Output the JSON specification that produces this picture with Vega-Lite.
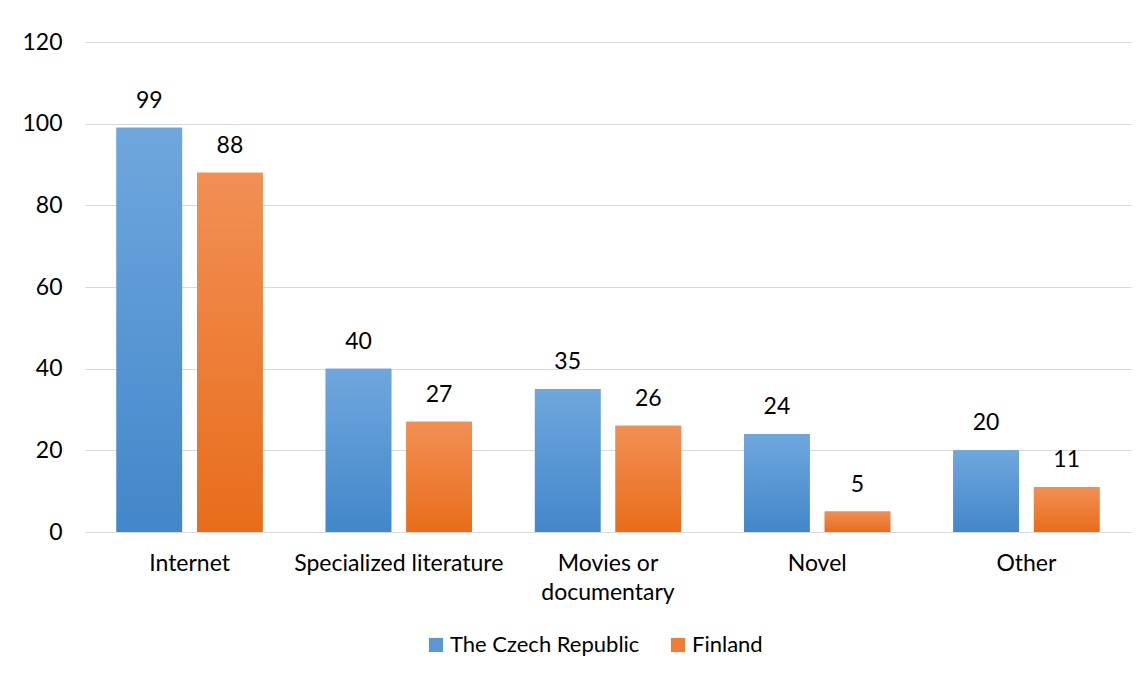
{
  "$schema": "https://vega.github.io/schema/vega-lite/v6.json",
  "autosize": {"type": "none"},
  "width": 1046,
  "height": 490,
  "padding": {"left": 85, "top": 42, "right": 17, "bottom": 145},
  "background": "white",
  "config": {
    "font": "Lato",
    "view": {"stroke": null},
    "axis": {"labelFont": "Lato", "labelFontSize": 23, "labelColor": "#000000", "titleFont": "Lato", "labelLimit": 0},
    "legend": {"labelFont": "Lato", "labelFontSize": 22, "labelColor": "#000000", "labelLimit": 0}
  },
  "data": {
    "values": [
      {"category": "Internet", "country": "The Czech Republic", "value": 99},
      {"category": "Internet", "country": "Finland", "value": 88},
      {"category": "Specialized literature", "country": "The Czech Republic", "value": 40},
      {"category": "Specialized literature", "country": "Finland", "value": 27},
      {"category": "Movies or documentary", "country": "The Czech Republic", "value": 35},
      {"category": "Movies or documentary", "country": "Finland", "value": 26},
      {"category": "Novel", "country": "The Czech Republic", "value": 24},
      {"category": "Novel", "country": "Finland", "value": 5},
      {"category": "Other", "country": "The Czech Republic", "value": 20},
      {"category": "Other", "country": "Finland", "value": 11}
    ]
  },
  "encoding": {
    "x": {
      "field": "category",
      "type": "nominal",
      "sort": ["Internet", "Specialized literature", "Movies or documentary", "Novel", "Other"],
      "scale": {"paddingInner": 0.301, "paddingOuter": 0.1505},
      "axis": {
        "title": null,
        "labelAngle": 0,
        "ticks": false,
        "domain": false,
        "labelPadding": 20,
        "labelLineHeight": 29,
        "labelExpr": "datum.value == 'Movies or documentary' ? ['Movies or', 'documentary'] : datum.value"
      }
    },
    "xOffset": {
      "field": "country",
      "type": "nominal",
      "sort": ["The Czech Republic", "Finland"],
      "scale": {"paddingInner": 0.186, "paddingOuter": 0}
    },
    "y": {
      "field": "value",
      "type": "quantitative",
      "scale": {"domain": [0, 120], "nice": false},
      "axis": {
        "title": null,
        "values": [0, 20, 40, 60, 80, 100, 120],
        "ticks": false,
        "domain": false,
        "labelPadding": 23,
        "gridColor": "#d9d9d9",
        "gridWidth": 1.2
      }
    }
  },
  "layer": [
    {
      "mark": {"type": "bar"},
      "encoding": {
        "color": {
          "field": "country",
          "type": "nominal",
          "sort": ["The Czech Republic", "Finland"],
          "scale": {"domain": ["The Czech Republic", "Finland"], "range": ["#5b97d4", "#ee7d36"]},
          "legend": {
            "title": null,
            "orient": "none",
            "direction": "horizontal",
            "legendX": 340,
            "legendY": 592,
            "symbolType": "square",
            "symbolSize": 200,
            "symbolStrokeWidth": 0,
            "columnPadding": 27,
            "labelOffset": 3
          }
        }
      }
    },
    {
      "transform": [{"filter": "datum.country == 'The Czech Republic'"}],
      "mark": {
        "type": "bar",
        "color": {"gradient": "linear", "x1": 0, "y1": 0, "x2": 0, "y2": 1,
          "stops": [{"offset": 0, "color": "#6fa7dd"}, {"offset": 1, "color": "#4287ca"}]}
      }
    },
    {
      "transform": [{"filter": "datum.country == 'Finland'"}],
      "mark": {
        "type": "bar",
        "color": {"gradient": "linear", "x1": 0, "y1": 0, "x2": 0, "y2": 1,
          "stops": [{"offset": 0, "color": "#f28f55"}, {"offset": 1, "color": "#e86d1a"}]}
      }
    },
    {
      "mark": {"type": "text", "baseline": "alphabetic", "dy": -20, "fontSize": 23, "font": "Lato", "color": "#000000"},
      "encoding": {"text": {"field": "value", "type": "quantitative"}}
    }
  ]
}
